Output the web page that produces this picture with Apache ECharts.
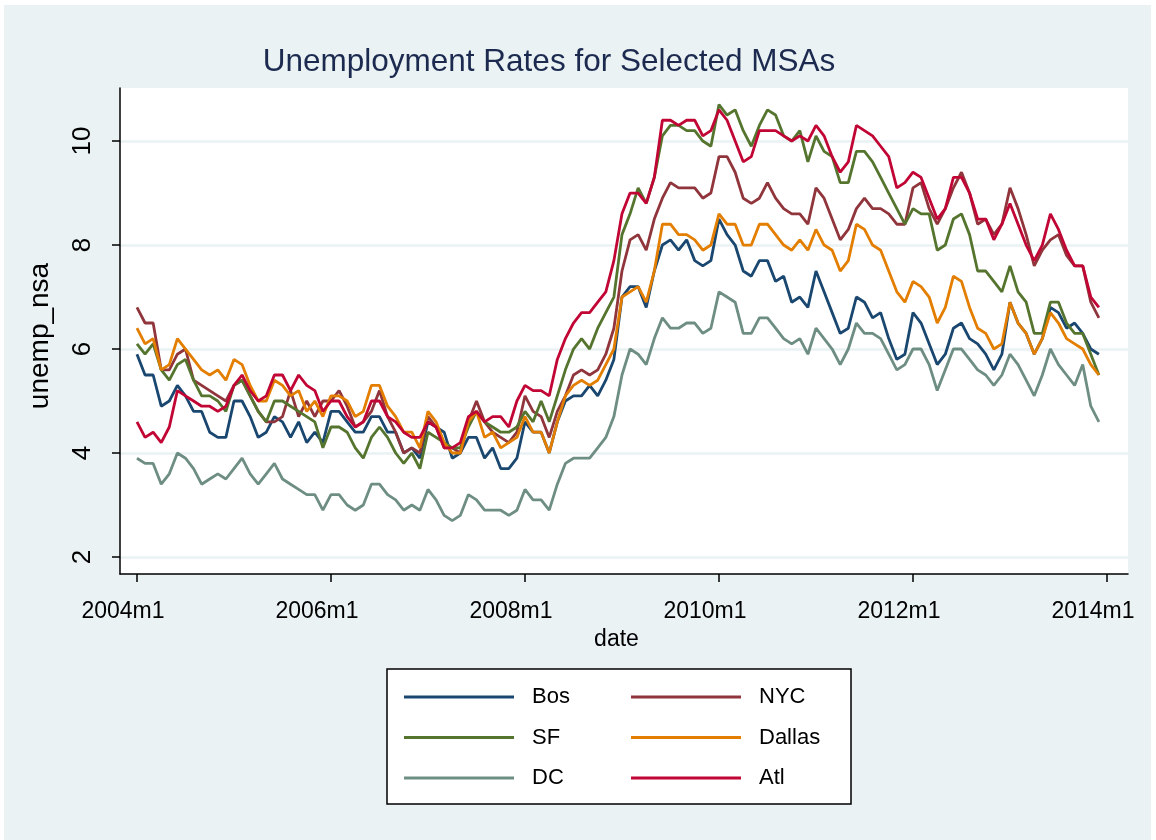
<!DOCTYPE html>
<html>
<head>
<meta charset="utf-8">
<script src="https://cdn.jsdelivr.net/npm/echarts@6/dist/echarts.min.js"></script>
<style>
html, body { margin: 0; padding: 0; background: #fff; }
#chart { position: absolute; left: 4px; top: 5px; width: 1147px; height: 835px; }
</style>
</head>
<body>
<div id="chart"></div>
<script>
// monthly unemployment, 2004m1 .. 2013m12 (index 0..119)
const bos = [
  5.9, 5.5, 5.5, 4.9, 5.0, 5.3, 5.1, 4.8, 4.8, 4.4, 4.3, 4.3,
  5.0, 5.0, 4.7, 4.3, 4.4, 4.7, 4.6, 4.3, 4.6, 4.2, 4.4, 4.2,
  4.8, 4.8, 4.6, 4.4, 4.4, 4.7, 4.7, 4.4, 4.4, 4.0, 4.1, 3.9,
  4.6, 4.5, 4.4, 3.9, 4.0, 4.3, 4.3, 3.9, 4.1, 3.7, 3.7, 3.9,
  4.6, 4.4, 4.4, 4.0, 4.6, 5.0, 5.1, 5.1, 5.3, 5.1, 5.4, 5.8,
  7.0, 7.2, 7.2, 6.8, 7.5, 8.0, 8.1, 7.9, 8.1, 7.7, 7.6, 7.7,
  8.5, 8.2, 8.0, 7.5, 7.4, 7.7, 7.7, 7.3, 7.4, 6.9, 7.0, 6.8,
  7.5, 7.1, 6.7, 6.3, 6.4, 7.0, 6.9, 6.6, 6.7, 6.2, 5.8, 5.9,
  6.7, 6.5, 6.1, 5.7, 5.9, 6.4, 6.5, 6.2, 6.1, 5.9, 5.6, 5.9,
  6.9, 6.5, 6.3, 5.9, 6.2, 6.8, 6.7, 6.4, 6.5, 6.3, 6.0, 5.9
];
const nyc = [
  6.8, 6.5, 6.5, 5.6, 5.6, 5.9, 6.0, 5.4, 5.3, 5.2, 5.1, 5.0,
  5.3, 5.4, 5.1, 4.8, 4.6, 4.6, 4.7, 5.2, 4.7, 5.0, 4.7, 5.0,
  5.0, 5.2, 4.9, 4.5, 4.6, 4.8, 5.2, 4.7, 4.4, 4.0, 4.1, 4.0,
  4.7, 4.5, 4.1, 4.1, 4.0, 4.6, 5.0, 4.6, 4.4, 4.3, 4.2, 4.4,
  5.1, 4.8, 4.7, 4.3, 4.8, 5.1, 5.5, 5.6, 5.5, 5.6, 5.9, 6.4,
  7.5, 8.1, 8.2, 7.9, 8.5, 8.9, 9.2, 9.1, 9.1, 9.1, 8.9, 9.0,
  9.7, 9.7, 9.4, 8.9, 8.8, 8.9, 9.2, 8.9, 8.7, 8.6, 8.6, 8.4,
  9.1, 8.9, 8.5, 8.1, 8.3, 8.7, 8.9, 8.7, 8.7, 8.6, 8.4, 8.4,
  9.1, 9.2, 8.7, 8.4, 8.7, 9.1, 9.4, 9.0, 8.4, 8.5, 8.2, 8.4,
  9.1, 8.7, 8.2, 7.6, 7.9, 8.1, 8.2, 7.8, 7.6, 7.6, 6.9, 6.6
];
const sf = [
  6.1, 5.9, 6.1, 5.6, 5.4, 5.7, 5.8, 5.4, 5.1, 5.1, 5.0, 4.8,
  5.3, 5.4, 5.1, 4.8, 4.6, 5.0, 5.0, 4.9, 4.8, 4.7, 4.6, 4.1,
  4.5, 4.5, 4.4, 4.1, 3.9, 4.3, 4.5, 4.3, 4.0, 3.8, 4.0, 3.7,
  4.4, 4.3, 4.2, 4.1, 4.1, 4.5, 4.8, 4.6, 4.5, 4.4, 4.4, 4.5,
  4.8, 4.6, 5.0, 4.6, 5.1, 5.6, 6.0, 6.2, 6.0, 6.4, 6.7, 7.0,
  8.2, 8.6, 9.1, 8.8, 9.3, 10.1, 10.3, 10.3, 10.2, 10.2, 10.0, 9.9,
  10.7, 10.5, 10.6, 10.2, 9.9, 10.3, 10.6, 10.5, 10.1, 10.0, 10.2, 9.6,
  10.1, 9.8, 9.7, 9.2, 9.2, 9.8, 9.8, 9.6, 9.3, 9.0, 8.7, 8.4,
  8.7, 8.6, 8.6, 7.9, 8.0, 8.5, 8.6, 8.2, 7.5, 7.5, 7.3, 7.1,
  7.6, 7.1, 6.9, 6.3, 6.3, 6.9, 6.9, 6.5, 6.3, 6.3, 5.9, 5.5
];
const dallas = [
  6.4, 6.1, 6.2, 5.6, 5.7, 6.2, 6.0, 5.8, 5.6, 5.5, 5.6, 5.4,
  5.8, 5.7, 5.3, 5.0, 5.0, 5.4, 5.3, 5.1, 5.2, 4.8, 5.0, 4.7,
  5.1, 5.1, 5.0, 4.7, 4.8, 5.3, 5.3, 4.9, 4.7, 4.4, 4.4, 4.1,
  4.8, 4.6, 4.2, 4.0, 4.0, 4.6, 4.8, 4.3, 4.4, 4.1, 4.2, 4.3,
  4.7, 4.4, 4.4, 4.0, 4.6, 5.1, 5.3, 5.4, 5.3, 5.4, 5.7, 6.0,
  7.0, 7.1, 7.2, 6.9, 7.5, 8.4, 8.4, 8.2, 8.2, 8.1, 7.9, 8.0,
  8.6, 8.4, 8.4, 8.0, 8.0, 8.4, 8.4, 8.2, 8.0, 7.9, 8.1, 7.9,
  8.3, 8.0, 7.9, 7.5, 7.7, 8.4, 8.3, 8.0, 7.9, 7.5, 7.1, 6.9,
  7.3, 7.2, 7.0, 6.5, 6.8, 7.4, 7.3, 6.8, 6.4, 6.3, 6.0, 6.1,
  6.9, 6.5, 6.3, 5.9, 6.2, 6.7, 6.5, 6.2, 6.1, 6.0, 5.7, 5.5
];
const dc = [
  3.9, 3.8, 3.8, 3.4, 3.6, 4.0, 3.9, 3.7, 3.4, 3.5, 3.6, 3.5,
  3.7, 3.9, 3.6, 3.4, 3.6, 3.8, 3.5, 3.4, 3.3, 3.2, 3.2, 2.9,
  3.2, 3.2, 3.0, 2.9, 3.0, 3.4, 3.4, 3.2, 3.1, 2.9, 3.0, 2.9,
  3.3, 3.1, 2.8, 2.7, 2.8, 3.2, 3.1, 2.9, 2.9, 2.9, 2.8, 2.9,
  3.3, 3.1, 3.1, 2.9, 3.4, 3.8, 3.9, 3.9, 3.9, 4.1, 4.3, 4.7,
  5.5, 6.0, 5.9, 5.7, 6.2, 6.6, 6.4, 6.4, 6.5, 6.5, 6.3, 6.4,
  7.1, 7.0, 6.9, 6.3, 6.3, 6.6, 6.6, 6.4, 6.2, 6.1, 6.2, 5.9,
  6.4, 6.2, 6.0, 5.7, 6.0, 6.5, 6.3, 6.3, 6.2, 5.9, 5.6, 5.7,
  6.0, 6.0, 5.7, 5.2, 5.6, 6.0, 6.0, 5.8, 5.6, 5.5, 5.3, 5.5,
  5.9, 5.7, 5.4, 5.1, 5.5, 6.0, 5.7, 5.5, 5.3, 5.7, 4.9, 4.6
];
const atl = [
  4.6, 4.3, 4.4, 4.2, 4.5, 5.2, 5.1, 5.0, 4.9, 4.9, 4.8, 4.9,
  5.3, 5.5, 5.2, 5.0, 5.1, 5.5, 5.5, 5.2, 5.5, 5.3, 5.2, 4.8,
  5.0, 5.0, 4.7, 4.5, 4.6, 5.0, 5.0, 4.7, 4.6, 4.4, 4.3, 4.3,
  4.6, 4.5, 4.1, 4.1, 4.2, 4.7, 4.8, 4.6, 4.7, 4.7, 4.5, 5.0,
  5.3, 5.2, 5.2, 5.1, 5.8, 6.2, 6.5, 6.7, 6.7, 6.9, 7.1, 7.7,
  8.6, 9.0, 9.0, 8.8, 9.3, 10.4, 10.4, 10.3, 10.4, 10.4, 10.1, 10.2,
  10.6, 10.4, 10.0, 9.6, 9.7, 10.2, 10.2, 10.2, 10.1, 10.0, 10.1, 10.0,
  10.3, 10.1, 9.7, 9.4, 9.6, 10.3, 10.2, 10.1, 9.9, 9.7, 9.1, 9.2,
  9.4, 9.3, 8.9, 8.5, 8.7, 9.3, 9.3, 9.0, 8.5, 8.5, 8.1, 8.4,
  8.8, 8.4, 8.0, 7.7, 8.0, 8.6, 8.3, 7.9, 7.6, 7.6, 7.0, 6.8
];

const seriesNames = ['Bos', 'NYC', 'SF', 'Dallas', 'DC', 'Atl'];
const seriesValues = [bos, nyc, sf, dallas, dc, atl];
const xTickPos = [0, 24, 48, 72, 96, 120];
const xTickLabels = ['2004m1', '2006m1', '2008m1', '2010m1', '2012m1', '2014m1'];
const yTicks = [2, 4, 6, 8, 10];

const colors = ['#1a476f', '#90353b', '#55752f', '#e37e00', '#6e8e84', '#c10534'];
const font = "'Liberation Sans', Arial, Helvetica, sans-serif";

const chart = echarts.init(document.getElementById('chart'));

const legendCommon = {
  orient: 'vertical',
  top: 676,
  itemWidth: 110,
  itemHeight: 22,
  itemGap: 18.5,
  icon: 'path://M0,0 L110,0 L110,3 L0,3 Z',
  textStyle: { fontFamily: font, fontSize: 22, color: '#000', lineHeight: 22, padding: [0, 0, 0, 13] },
  selectedMode: false
};

chart.setOption({
  backgroundColor: '#eaf2f3',
  color: colors,
  animation: false,
  title: {
    text: 'Unemployment Rates for Selected MSAs',
    left: 540,
    textAlign: 'center',
    top: 36,
    textStyle: { fontFamily: font, fontSize: 31.5, fontWeight: 'normal', color: '#1c2a50' }
  },
  graphic: [{
    type: 'rect',
    shape: { x: 383, y: 664, width: 464, height: 135 },
    style: { fill: '#fff', stroke: '#000', lineWidth: 1.5 },
    z: 0
  }],
  legend: [
    Object.assign({ left: 395, data: ['Bos', 'SF', 'DC'] }, legendCommon),
    Object.assign({ left: 622, data: ['NYC', 'Dallas', 'Atl'] }, legendCommon)
  ],
  grid: { left: 116, right: 23, top: 83, bottom: 266, backgroundColor: '#fff', show: true, borderWidth: 0 },
  xAxis: {
    type: 'value',
    min: -2.1,
    max: 122.6,
    name: 'date',
    nameLocation: 'middle',
    nameGap: 50,
    nameTextStyle: { fontFamily: font, fontSize: 23, color: '#000', padding: [0, 15, 0, 0] },
    axisLine: { show: true, onZero: false, lineStyle: { color: '#000', width: 1.5 } },
    axisTick: { show: true, length: 8, customValues: xTickPos, lineStyle: { color: '#000', width: 1.5 } },
    axisLabel: {
      customValues: xTickPos,
      formatter: v => xTickLabels[xTickPos.indexOf(v)],
      fontFamily: font, fontSize: 23, color: '#000', margin: 26,
      padding: [0, 28, 0, 0]
    },
    splitLine: { show: false }
  },
  yAxis: {
    type: 'value',
    min: 1.673,
    max: 11.02,
    name: 'unemp_nsa',
    nameLocation: 'middle',
    nameRotate: 90,
    nameGap: 66,
    nameTextStyle: { fontFamily: font, fontSize: 28, color: '#000', padding: [0, 10, 0, 0] },
    axisLine: { show: true, onZero: false, lineStyle: { color: '#000', width: 1.5 } },
    axisTick: { show: true, length: 8, customValues: yTicks, lineStyle: { color: '#000', width: 1.5 } },
    axisLabel: {
      customValues: yTicks,
      rotate: 90,
      fontFamily: font, fontSize: 26, color: '#000', margin: 24
    },
    splitLine: { show: true, lineStyle: { color: '#eaf2f3', width: 2.5 } }
  },
  series: seriesNames.map((name, k) => ({
    name: name,
    type: 'line',
    symbol: 'none',
    lineStyle: { width: 2.8 },
    data: seriesValues[k].map((v, i) => [i, v])
  }))
});
</script>
</body>
</html>
